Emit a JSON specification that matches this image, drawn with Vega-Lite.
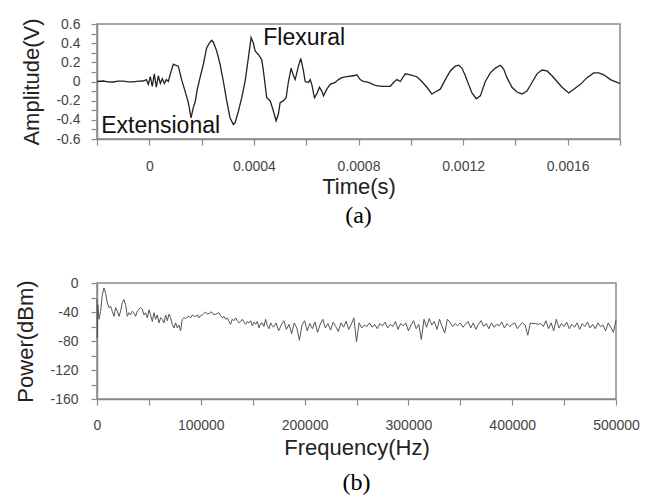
{
  "$schema": "https://vega.github.io/schema/vega-lite/v6.json",
  "background": "white",
  "padding": {"left": 14, "top": 16, "right": 5, "bottom": 0},
  "config": {
    "font": "Liberation Sans",
    "view": {"stroke": "#8a8a8a", "strokeWidth": 1.5},
    "axis": {
      "grid": false,
      "labelFont": "Liberation Sans",
      "labelFontSize": 14,
      "labelColor": "#444",
      "titleFont": "Liberation Sans",
      "titleFontSize": 22,
      "titleFontWeight": "normal",
      "titleColor": "#222",
      "domainColor": "#8a8a8a",
      "domainWidth": 1.5,
      "tickColor": "#8a8a8a",
      "tickWidth": 1.2,
      "tickSize": 6,
      "labelFlush": false,
      "labelOverlap": false
    }
  },
  "columns": 1,
  "align": "none",
  "spacing": 46,
  "concat": [
    {
      "width": 523,
      "height": 115,
      "title": {"text": "(a)", "orient": "bottom", "frame": "group", "font": "Liberation Serif", "fontSize": 24, "fontWeight": "normal", "color": "#000", "offset": 7},
      "encoding": {
        "x": {"field": "t", "type": "quantitative", "title": "Time(s)",
          "scale": {"domain": [-0.0002, 0.0018], "nice": false, "zero": false},
          "axis": {"values": [-0.0002, 0, 0.0002, 0.0004, 0.0006, 0.0008, 0.001, 0.0012, 0.0014, 0.0016, 0.0018],
            "labelExpr": "abs(datum.value/0.0004 - round(datum.value/0.0004)) < 0.01 ? format(datum.value, '~g') : ''",
            "labelOverlap": false, "labelFlush": false,
            "labelPadding": 14, "titlePadding": 3}},
        "y": {"field": "a", "type": "quantitative", "title": "Amplitude(V)",
          "scale": {"domain": [-0.6, 0.6], "nice": false, "zero": false},
          "axis": {"values": [-0.6, -0.5, -0.4, -0.3, -0.2, -0.1, 0, 0.1, 0.2, 0.3, 0.4, 0.5, 0.6],
            "labelExpr": "abs(datum.value/0.2 - round(datum.value/0.2)) < 0.01 ? (datum.value < -0.001 ? '-' : '') + format(abs(datum.value), '~g') : ''",
            "labelOverlap": false, "labelFlush": false, "labelBound": false,
            "labelPadding": 11, "titlePadding": 12}}
      },
      "layer": [
        {
          "data": {"values": [
            {"t": -0.0002, "a": 0}, {"t": -0.000176, "a": 0.005}, {"t": -0.000158, "a": -0.004}, {"t": -0.000138, "a": -0.005},
            {"t": -0.00012, "a": 0.004}, {"t": -0.0000995, "a": 0.003}, {"t": -0.00008, "a": -0.003}, {"t": -0.0000612, "a": -0.004},
            {"t": -0.00004, "a": 0.003}, {"t": -0.000023, "a": 0.005}, {"t": -0.0000115, "a": 0.02}, {"t": -0.0000038, "a": -0.03},
            {"t": 0.0000038, "a": 0.05}, {"t": 0.0000115, "a": -0.05}, {"t": 0.0000191, "a": 0.08}, {"t": 0.0000268, "a": -0.06},
            {"t": 0.0000345, "a": 0.06}, {"t": 0.0000421, "a": -0.02}, {"t": 0.0000498, "a": 0.03}, {"t": 0.0000574, "a": -0.02},
            {"t": 0.0000651, "a": 0.02}, {"t": 0.0000727, "a": 0.0}, {"t": 0.0000804, "a": 0.08}, {"t": 0.0000919, "a": 0.18},
            {"t": 0.0000995, "a": 0.17}, {"t": 0.000111, "a": 0.16}, {"t": 0.0001225, "a": 0.03}, {"t": 0.0001367, "a": -0.1},
            {"t": 0.0001493, "a": -0.22}, {"t": 0.0001596, "a": -0.38}, {"t": 0.0001684, "a": -0.27}, {"t": 0.0001749, "a": -0.22},
            {"t": 0.0001837, "a": -0.08}, {"t": 0.0001941, "a": 0.04}, {"t": 0.0002067, "a": 0.18}, {"t": 0.0002193, "a": 0.35},
            {"t": 0.0002297, "a": 0.4}, {"t": 0.0002385, "a": 0.43}, {"t": 0.000245, "a": 0.41}, {"t": 0.0002576, "a": 0.32},
            {"t": 0.0002706, "a": 0.18}, {"t": 0.0002833, "a": 0.0}, {"t": 0.0002959, "a": -0.2}, {"t": 0.0003089, "a": -0.38},
            {"t": 0.0003216, "a": -0.45}, {"t": 0.0003281, "a": -0.43}, {"t": 0.0003407, "a": -0.31}, {"t": 0.0003533, "a": -0.17},
            {"t": 0.0003663, "a": 0.0}, {"t": 0.000379, "a": 0.25}, {"t": 0.0003893, "a": 0.46}, {"t": 0.0003981, "a": 0.4},
            {"t": 0.0004046, "a": 0.32}, {"t": 0.0004173, "a": 0.28}, {"t": 0.0004299, "a": 0.23}, {"t": 0.0004364, "a": 0.11},
            {"t": 0.000449, "a": -0.17}, {"t": 0.000462, "a": -0.2}, {"t": 0.0004747, "a": -0.31}, {"t": 0.000485, "a": -0.41},
            {"t": 0.0004938, "a": -0.34}, {"t": 0.0005003, "a": -0.22}, {"t": 0.000513, "a": -0.2}, {"t": 0.0005233, "a": -0.17},
            {"t": 0.0005321, "a": 0.0}, {"t": 0.0005424, "a": 0.14}, {"t": 0.0005512, "a": 0.06}, {"t": 0.0005577, "a": 0.02},
            {"t": 0.0005704, "a": 0.16}, {"t": 0.0005792, "a": 0.24}, {"t": 0.0005895, "a": 0.11}, {"t": 0.000596, "a": 0.0},
            {"t": 0.0006087, "a": -0.01}, {"t": 0.0006152, "a": 0.02}, {"t": 0.0006213, "a": -0.03}, {"t": 0.0006316, "a": -0.17},
            {"t": 0.0006404, "a": -0.13}, {"t": 0.0006508, "a": -0.06}, {"t": 0.0006596, "a": -0.1}, {"t": 0.0006661, "a": -0.15},
            {"t": 0.0006787, "a": -0.08}, {"t": 0.0006917, "a": -0.03}, {"t": 0.0007109, "a": -0.01}, {"t": 0.0007235, "a": 0.02},
            {"t": 0.0007361, "a": 0.04}, {"t": 0.0007553, "a": 0.05}, {"t": 0.0007809, "a": 0.06}, {"t": 0.0007935, "a": 0.07},
            {"t": 0.0008066, "a": 0.02}, {"t": 0.0008192, "a": 0.0}, {"t": 0.0008383, "a": -0.01}, {"t": 0.000864, "a": -0.04},
            {"t": 0.0008893, "a": -0.05}, {"t": 0.0009214, "a": -0.05}, {"t": 0.000934, "a": -0.01}, {"t": 0.0009467, "a": 0.02},
            {"t": 0.0009597, "a": 0.0}, {"t": 0.0009788, "a": 0.08}, {"t": 0.000998, "a": 0.07}, {"t": 0.0010232, "a": 0.05},
            {"t": 0.0010424, "a": 0.0}, {"t": 0.0010615, "a": -0.06}, {"t": 0.0010806, "a": -0.13}, {"t": 0.0010937, "a": -0.11},
            {"t": 0.0011128, "a": -0.08}, {"t": 0.0011319, "a": 0.02}, {"t": 0.0011511, "a": 0.11}, {"t": 0.0011702, "a": 0.16},
            {"t": 0.0011829, "a": 0.17}, {"t": 0.0011955, "a": 0.14}, {"t": 0.0012085, "a": 0.06}, {"t": 0.0012211, "a": -0.03},
            {"t": 0.0012338, "a": -0.12}, {"t": 0.0012506, "a": -0.18}, {"t": 0.0012659, "a": -0.15}, {"t": 0.001285, "a": 0.0},
            {"t": 0.0013042, "a": 0.09}, {"t": 0.0013233, "a": 0.14}, {"t": 0.0013425, "a": 0.17}, {"t": 0.0013551, "a": 0.13},
            {"t": 0.0013677, "a": 0.04}, {"t": 0.0013869, "a": -0.06}, {"t": 0.001406, "a": -0.11}, {"t": 0.0014252, "a": -0.13},
            {"t": 0.0014443, "a": -0.1}, {"t": 0.0014634, "a": -0.01}, {"t": 0.0014826, "a": 0.08}, {"t": 0.0015017, "a": 0.12},
            {"t": 0.0015209, "a": 0.11}, {"t": 0.00154, "a": 0.06}, {"t": 0.0015591, "a": 0.0}, {"t": 0.0015783, "a": -0.06},
            {"t": 0.0016039, "a": -0.12}, {"t": 0.0016231, "a": -0.08}, {"t": 0.0016487, "a": -0.03}, {"t": 0.001674, "a": 0.04},
            {"t": 0.0016996, "a": 0.09}, {"t": 0.0017188, "a": 0.09}, {"t": 0.0017379, "a": 0.07}, {"t": 0.0017636, "a": 0.02},
            {"t": 0.0017888, "a": -0.01}, {"t": 0.0018, "a": -0.02}
          ]},
          "mark": {"type": "line", "color": "#222", "strokeWidth": 1.3}
        },
        {
          "data": {"values": [
            {"t": 0.000436, "a": 0.454, "label": "Flexural"},
            {"t": -0.000184, "a": -0.465, "label": "Extensional"}
          ]},
          "mark": {"type": "text", "align": "left", "baseline": "middle", "font": "Liberation Sans", "fontSize": 23, "color": "#111"},
          "encoding": {"text": {"field": "label"}}
        }
      ]
    },
    {
      "width": 519,
      "height": 116,
      "title": {"text": "(b)", "orient": "bottom", "frame": "group", "font": "Liberation Serif", "fontSize": 24, "fontWeight": "normal", "color": "#000", "offset": 13},
      "data": {"values": [
        {"f": 0, "p": -22}, {"f": 300, "p": -76}, {"f": 800, "p": -30}, {"f": 1900, "p": -50}, {"f": 3500, "p": -39},
        {"f": 5100, "p": -16}, {"f": 6700, "p": -7}, {"f": 8300, "p": -14}, {"f": 9900, "p": -27}, {"f": 11600, "p": -34},
        {"f": 13100, "p": -32}, {"f": 14700, "p": -39}, {"f": 16400, "p": -46}, {"f": 17900, "p": -34}, {"f": 19600, "p": -39},
        {"f": 21200, "p": -46}, {"f": 22700, "p": -39}, {"f": 24400, "p": -27}, {"f": 26000, "p": -23}, {"f": 27600, "p": -30},
        {"f": 29200, "p": -46}, {"f": 30800, "p": -41}, {"f": 32400, "p": -44}, {"f": 34000, "p": -39}, {"f": 35600, "p": -41},
        {"f": 37200, "p": -46}, {"f": 38800, "p": -39}, {"f": 40500, "p": -36}, {"f": 42000, "p": -34}, {"f": 43600, "p": -36},
        {"f": 45300, "p": -44}, {"f": 46800, "p": -41}, {"f": 48500, "p": -48}, {"f": 50100, "p": -37}, {"f": 51600, "p": -44},
        {"f": 53300, "p": -53}, {"f": 54900, "p": -41}, {"f": 56500, "p": -50}, {"f": 58100, "p": -44}, {"f": 59700, "p": -55},
        {"f": 61300, "p": -48}, {"f": 62900, "p": -50}, {"f": 64500, "p": -55}, {"f": 66100, "p": -44}, {"f": 67700, "p": -52},
        {"f": 69400, "p": -43}, {"f": 70900, "p": -48}, {"f": 72500, "p": -57}, {"f": 74200, "p": -62}, {"f": 75700, "p": -55},
        {"f": 77400, "p": -62}, {"f": 79000, "p": -58}, {"f": 80500, "p": -66}, {"f": 82200, "p": -50}, {"f": 83800, "p": -48},
        {"f": 85400, "p": -49}, {"f": 87000, "p": -47}, {"f": 88600, "p": -46}, {"f": 90200, "p": -48}, {"f": 91800, "p": -44},
        {"f": 93400, "p": -46}, {"f": 95000, "p": -46}, {"f": 96600, "p": -44}, {"f": 98300, "p": -48}, {"f": 99800, "p": -45},
        {"f": 101400, "p": -44}, {"f": 103000, "p": -42}, {"f": 104600, "p": -40}, {"f": 106200, "p": -43}, {"f": 107900, "p": -42},
        {"f": 109500, "p": -40}, {"f": 111100, "p": -41}, {"f": 112700, "p": -44}, {"f": 114300, "p": -43}, {"f": 115900, "p": -42},
        {"f": 117500, "p": -41}, {"f": 119100, "p": -45}, {"f": 120700, "p": -48}, {"f": 122300, "p": -46}, {"f": 123900, "p": -50},
        {"f": 125500, "p": -48}, {"f": 127200, "p": -53}, {"f": 128700, "p": -57}, {"f": 130300, "p": -50}, {"f": 131900, "p": -52},
        {"f": 133500, "p": -48}, {"f": 135100, "p": -52}, {"f": 136800, "p": -55}, {"f": 138400, "p": -53}, {"f": 140000, "p": -50},
        {"f": 141600, "p": -54}, {"f": 143200, "p": -57}, {"f": 144800, "p": -53}, {"f": 146400, "p": -55}, {"f": 148000, "p": -52},
        {"f": 149600, "p": -59}, {"f": 151200, "p": -54}, {"f": 152800, "p": -57}, {"f": 154400, "p": -53}, {"f": 156100, "p": -62},
        {"f": 157700, "p": -56}, {"f": 159300, "p": -55}, {"f": 160800, "p": -60}, {"f": 162400, "p": -50}, {"f": 164100, "p": -59},
        {"f": 165700, "p": -63}, {"f": 167300, "p": -55}, {"f": 168900, "p": -59},
        {"f": 170000, "p": -61}, {"f": 172500, "p": -55}, {"f": 175000, "p": -66}, {"f": 177500, "p": -58}, {"f": 180000, "p": -52},
        {"f": 182500, "p": -64}, {"f": 185000, "p": -57}, {"f": 187500, "p": -70}, {"f": 190000, "p": -55}, {"f": 192500, "p": -62},
        {"f": 195000, "p": -79}, {"f": 197500, "p": -58}, {"f": 200000, "p": -52}, {"f": 202500, "p": -66}, {"f": 205000, "p": -56},
        {"f": 207500, "p": -63}, {"f": 210000, "p": -54}, {"f": 212500, "p": -68}, {"f": 215000, "p": -57}, {"f": 217500, "p": -50},
        {"f": 220000, "p": -62}, {"f": 222500, "p": -56}, {"f": 225000, "p": -65}, {"f": 227500, "p": -54}, {"f": 230000, "p": -60},
        {"f": 232500, "p": -67}, {"f": 235000, "p": -55}, {"f": 237500, "p": -61}, {"f": 240000, "p": -53}, {"f": 242500, "p": -64},
        {"f": 245000, "p": -57}, {"f": 247500, "p": -48}, {"f": 250000, "p": -81}, {"f": 252500, "p": -55}, {"f": 255000, "p": -62},
        {"f": 257500, "p": -58}, {"f": 260000, "p": -60}, {"f": 262500, "p": -55}, {"f": 265000, "p": -61}, {"f": 267500, "p": -57},
        {"f": 270000, "p": -63}, {"f": 272500, "p": -56}, {"f": 275000, "p": -59}, {"f": 277500, "p": -54}, {"f": 280000, "p": -62},
        {"f": 282500, "p": -57}, {"f": 285000, "p": -60}, {"f": 287500, "p": -53}, {"f": 290000, "p": -64}, {"f": 292500, "p": -56},
        {"f": 295000, "p": -59}, {"f": 297500, "p": -55}, {"f": 300000, "p": -66}, {"f": 302500, "p": -58}, {"f": 305000, "p": -52},
        {"f": 307500, "p": -63}, {"f": 310000, "p": -57}, {"f": 312500, "p": -78}, {"f": 315000, "p": -50}, {"f": 317500, "p": -61},
        {"f": 320000, "p": -49}, {"f": 322500, "p": -58}, {"f": 325000, "p": -53}, {"f": 327500, "p": -64}, {"f": 330000, "p": -50},
        {"f": 332500, "p": -60}, {"f": 335000, "p": -69}, {"f": 337500, "p": -50}, {"f": 340000, "p": -54}, {"f": 342500, "p": -60},
        {"f": 345000, "p": -56}, {"f": 347500, "p": -59}, {"f": 350000, "p": -55}, {"f": 352500, "p": -61}, {"f": 355000, "p": -57},
        {"f": 357500, "p": -53}, {"f": 360000, "p": -62}, {"f": 362500, "p": -55}, {"f": 365000, "p": -64}, {"f": 367500, "p": -57},
        {"f": 370000, "p": -52}, {"f": 372500, "p": -60}, {"f": 375000, "p": -56}, {"f": 377500, "p": -63}, {"f": 380000, "p": -55},
        {"f": 382500, "p": -61}, {"f": 385000, "p": -57}, {"f": 387500, "p": -59}, {"f": 390000, "p": -54}, {"f": 392500, "p": -62},
        {"f": 395000, "p": -56}, {"f": 397500, "p": -60}, {"f": 400000, "p": -57}, {"f": 402500, "p": -55}, {"f": 405000, "p": -63},
        {"f": 407500, "p": -58}, {"f": 410000, "p": -55}, {"f": 412500, "p": -58}, {"f": 415000, "p": -72}, {"f": 417500, "p": -55},
        {"f": 420000, "p": -56}, {"f": 422500, "p": -56}, {"f": 425000, "p": -57}, {"f": 427500, "p": -56}, {"f": 430000, "p": -60},
        {"f": 432500, "p": -52}, {"f": 435000, "p": -63}, {"f": 437500, "p": -55}, {"f": 440000, "p": -66}, {"f": 442500, "p": -50},
        {"f": 445000, "p": -62}, {"f": 447500, "p": -56}, {"f": 450000, "p": -60}, {"f": 452500, "p": -54}, {"f": 455000, "p": -63},
        {"f": 457500, "p": -57}, {"f": 460000, "p": -61}, {"f": 462500, "p": -55}, {"f": 465000, "p": -64}, {"f": 467500, "p": -56},
        {"f": 470000, "p": -60}, {"f": 472500, "p": -54}, {"f": 475000, "p": -62}, {"f": 477500, "p": -57}, {"f": 480000, "p": -63},
        {"f": 482500, "p": -55}, {"f": 485000, "p": -60}, {"f": 487500, "p": -58}, {"f": 490000, "p": -66}, {"f": 492500, "p": -55},
        {"f": 495000, "p": -61}, {"f": 497500, "p": -68}, {"f": 500000, "p": -51}
      ]},
      "mark": {"type": "line", "color": "#555", "strokeWidth": 1},
      "encoding": {
        "x": {"field": "f", "type": "quantitative", "title": "Frequency(Hz)",
          "scale": {"domain": [0, 500000], "nice": false, "zero": false},
          "axis": {"values": [0, 50000, 100000, 150000, 200000, 250000, 300000, 350000, 400000, 450000, 500000],
            "labelExpr": "datum.value % 100000 == 0 ? format(datum.value, 'd') : ''",
            "labelOverlap": false, "labelFlush": false,
            "labelPadding": 13, "titlePadding": 5}},
        "y": {"field": "p", "type": "quantitative", "title": "Power(dBm)",
          "scale": {"domain": [-160, 0], "nice": false, "zero": false},
          "axis": {"values": [-160, -140, -120, -100, -80, -60, -40, -20, 0],
            "labelExpr": "datum.value % 40 == 0 ? (datum.value < 0 ? '-' : '') + format(abs(datum.value), 'd') : ''",
            "labelOverlap": false, "labelFlush": false,
            "labelPadding": 13, "titlePadding": 12}}
      }
    }
  ]
}
